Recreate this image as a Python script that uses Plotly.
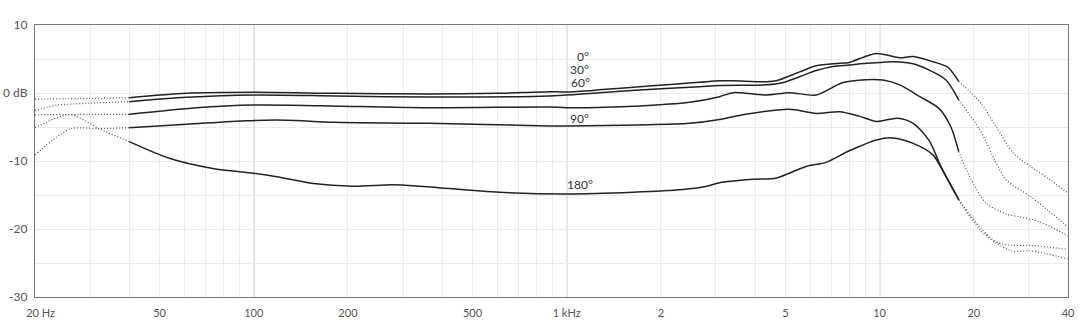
import math
import plotly.graph_objects as go

# ---- data (frequency in Hz, level in dB) ----
# 0 degrees
f0_low = [20, 30, 40]
d0_low = [-0.9, -0.8, -0.7]
f0_mid = [40, 61, 100, 184, 363, 600, 880, 1000, 1300, 1710, 2200, 2660, 3080, 3400, 4350, 4680,
          5550, 6270, 7450, 8000, 9050, 9770, 10500, 11600, 12800, 14800, 16500, 17900]
d0_mid = [-0.7, -0.05, 0.1, -0.05, -0.15, -0.05, 0.2, 0.15, 0.5, 0.93, 1.3, 1.57, 1.8, 1.8, 1.66, 1.8,
          3.1, 4.0, 4.36, 4.5, 5.4, 5.8, 5.6, 5.2, 5.35, 4.6, 3.8, 1.7]
f0_high = [17900, 20900, 23600, 26700, 30300, 34400, 40000]
d0_high = [1.7, -1.3, -5.0, -8.8, -10.8, -12.5, -14.7]

# 30 degrees
f30_low = [20, 23.5, 30, 40]
d30_low = [-2.6, -1.8, -1.5, -1.27]
f30_mid = [40, 61, 100, 184, 363, 880, 1710, 2660, 3080, 4350, 4900, 5550, 6270, 7100, 8000, 9050,
           10000, 11100, 12800, 14800, 16300, 17900]
d30_mid = [-1.27, -0.64, -0.3, -0.44, -0.59, -0.44, 0.44, 0.93, 1.1, 1.2, 1.5, 2.4, 3.3, 3.9, 4.1, 4.36,
           4.5, 4.6, 4.3, 3.1, 1.9, -1.0]
f30_high = [17900, 20900, 23600, 25400, 30300, 34400, 40000]
d30_high = [-1.0, -5.4, -10.3, -12.8, -15.2, -17.2, -19.7]

# 60 degrees
f60_low = [20, 30, 40]
d60_low = [-3.2, -3.15, -3.14]
f60_mid = [40, 65.6, 100, 163, 363, 881, 1000, 1710, 2470, 3080, 3400, 4350, 5150, 6270, 7600, 9050,
           10250, 11600, 13400, 15500, 16900, 17900]
d60_mid = [-3.14, -2.16, -1.76, -1.86, -2.16, -2.06, -2.16, -1.9, -1.37, -0.54, 0.05, -0.3, 0.05, -0.3,
           1.5, 1.96, 1.9, 1.2, -0.5, -2.3, -5.0, -8.6]
f60_high = [17900, 19400, 21900, 25400, 28000, 32300, 40000]
d60_high = [-8.6, -12.3, -16.2, -17.8, -18.2, -18.9, -21.0]

# 90 degrees
f90_low = [20, 25.9, 32, 40]
d90_low = [-9.1, -5.3, -5.25, -5.1]
f90_mid = [40, 61, 95, 127, 180, 363, 881, 1000, 1710, 2470, 3080, 3650, 5150, 6270, 7450, 8600,
           9770, 11400, 12800, 14400, 15700, 17900]
d90_mid = [-5.1, -4.6, -4.07, -4.0, -4.3, -4.46, -4.85, -4.85, -4.7, -4.46, -3.9, -3.2, -2.4, -3.0, -2.75,
           -3.4, -4.2, -3.7, -4.46, -7.0, -10.8, -15.7]
f90_high = [17900, 20900, 23600, 26700, 30300, 40000]
d90_high = [-15.7, -19.7, -21.9, -22.4, -22.4, -23.0]

# 180 degrees
f180_low = [20, 25.9, 32.2, 40]
d180_low = [-5.1, -3.2, -5.3, -7.16]
f180_mid = [40, 53.7, 74, 100, 118.5, 155, 207, 278, 339, 610, 1000, 1630, 2350, 2750, 3080, 3930,
            4680, 5820, 6750, 8000, 9770, 11000, 12800, 14800, 16300, 17900]
d180_mid = [-7.16, -9.6, -11.1, -11.8, -12.3, -13.3, -13.7, -13.5, -13.7, -14.6, -14.85, -14.6, -14.2,
            -13.8, -13.2, -12.7, -12.5, -10.8, -10.2, -8.5, -6.9, -6.6, -7.4, -9.1, -12.3, -15.7]
f180_high = [17900, 20900, 23600, 26700, 30300, 40000]
d180_high = [-15.7, -20.1, -22.1, -23.3, -23.2, -24.4]

series = [
    ("0°", f0_low, d0_low, f0_mid, d0_mid, f0_high, d0_high),
    ("30°", f30_low, d30_low, f30_mid, d30_mid, f30_high, d30_high),
    ("60°", f60_low, d60_low, f60_mid, d60_mid, f60_high, d60_high),
    ("90°", f90_low, d90_low, f90_mid, d90_mid, f90_high, d90_high),
    ("180°", f180_low, d180_low, f180_mid, d180_mid, f180_high, d180_high),
]

# curve labels: (text, freq Hz, dB)
label_text = ["0°", "30°", "60°", "90°", "180°"]
label_freq = [1130, 1100, 1110, 1100, 1100]
label_db = [5.4, 3.4, 1.5, -3.7, -13.5]

x_tick_vals = [20, 50, 100, 200, 500, 1000, 2000, 5000, 10000, 20000, 40000]
x_tick_text = ["\u00a0\u00a0\u00a0\u00a020 Hz", "50", "100", "200", "500", "1 kHz",
               "2", "5", "10", "20", "40"]
x_minor_vals = [20, 30, 40, 50, 60, 70, 80, 90, 100, 200, 300, 400, 500, 600, 700, 800, 900,
                1000, 2000, 3000, 4000, 5000, 6000, 7000, 8000, 9000, 10000, 20000, 30000, 40000]
x_major_grid = [100, 1000, 10000]
y_tick_vals = [10, 0, -10, -20, -30]
y_tick_text = ["10", "0 dB", "-10", "-20", "-30"]

FONT = "Lato, 'Open Sans', sans-serif"
DOT = "1px,2px"

fig = go.Figure()
for name, fl, dl, fm, dm, fh, dh in series:
    fig.add_trace(go.Scatter(x=fl, y=dl, mode="lines", showlegend=False, hoverinfo="skip",
                             line=dict(color="#555555", width=1.2, dash=DOT, shape="spline", smoothing=0.8)))
    fig.add_trace(go.Scatter(x=fh, y=dh, mode="lines", showlegend=False, hoverinfo="skip",
                             line=dict(color="#555555", width=1.2, dash=DOT, shape="spline", smoothing=0.8)))
    fig.add_trace(go.Scatter(x=fm, y=dm, mode="lines", showlegend=False, name=name,
                             line=dict(color="#222222", width=1.5, shape="spline", smoothing=0.8)))

for f in x_major_grid:
    fig.add_vline(x=f, line=dict(color="#a8a8a8", width=1.3), layer="below")

for t, f, d in zip(label_text, label_freq, label_db):
    fig.add_annotation(x=math.log10(f), y=d, text=t, showarrow=False,
                       font=dict(family=FONT, size=12, color="#333333"),
                       xanchor="center", yanchor="middle")

fig.update_xaxes(type="log", range=[math.log10(20), math.log10(40000)], automargin=False,
                 tickmode="array", tickvals=x_tick_vals, ticktext=x_tick_text,
                 showgrid=False, ticks="", zeroline=False,
                 showline=True, linecolor="#777777", linewidth=1.2, mirror=True,
                 tickfont=dict(family=FONT, size=11, color="#555555"),
                 ticklabelstandoff=6,
                 minor=dict(tickmode="array", tickvals=x_minor_vals, showgrid=True,
                            gridcolor="#ececec", gridwidth=1, ticks=""))
fig.update_yaxes(range=[-30, 10], tickmode="array", tickvals=y_tick_vals, ticktext=y_tick_text,
                 automargin=False, showgrid=False, zeroline=False, ticks="",
                 showline=True, linecolor="#777777", linewidth=1.2, mirror=True,
                 tickfont=dict(family=FONT, size=12, color="#555555"),
                 ticklabelstandoff=4,
                 minor=dict(dtick=5, tick0=0, showgrid=True, gridcolor="#ececec", gridwidth=1, ticks=""))

fig.update_layout(width=1080, height=336, margin=dict(l=35, r=12, t=25, b=39),
                  paper_bgcolor="white", plot_bgcolor="white", showlegend=False)

fig.write_html("out.html", config={"displayModeBar": False},
               post_script="document.body.style.margin='0';document.body.style.padding='0';")
